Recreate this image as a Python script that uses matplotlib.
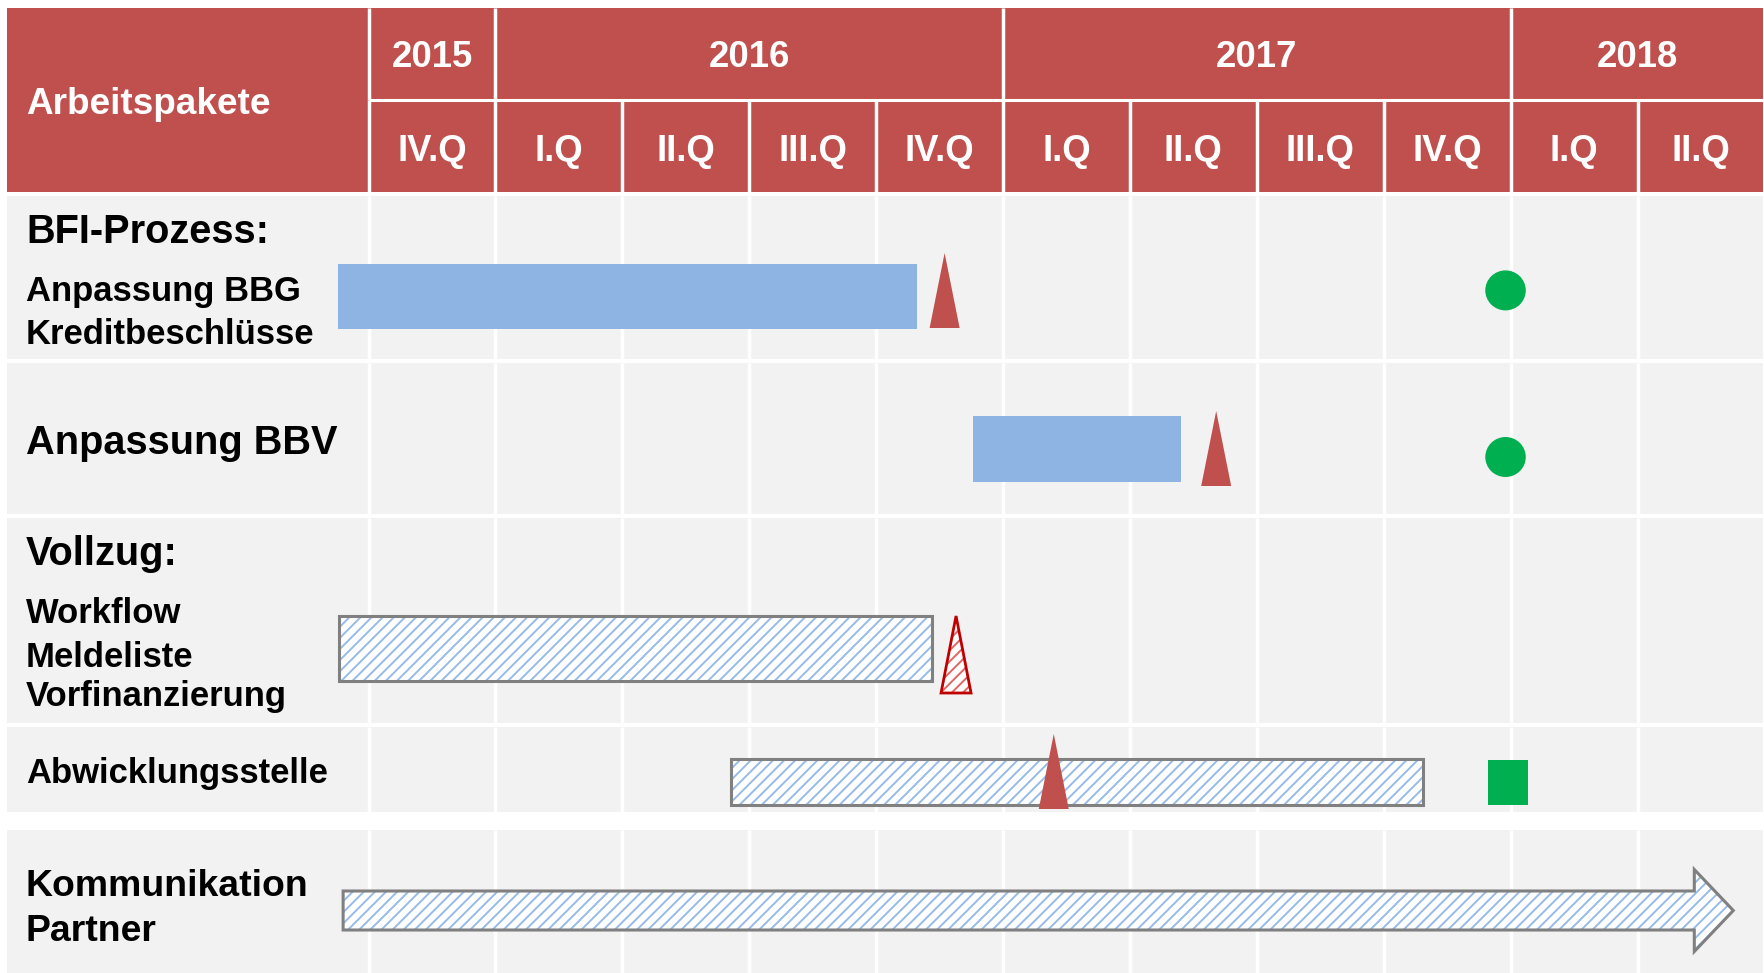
import matplotlib
matplotlib.use("Agg")
import matplotlib.pyplot as plt
from matplotlib.patches import Rectangle, Polygon, Ellipse, FancyArrow

# ---------------- data ----------------
header_label = "Arbeitspakete"
years = ["2015", "2016", "2017", "2018"]
year_spans = [1, 4, 4, 2]                      # quarters per year shown
quarter_labels = ["IV.Q", "I.Q", "II.Q", "III.Q", "IV.Q",
                  "I.Q", "II.Q", "III.Q", "IV.Q", "I.Q", "II.Q"]

# time in quarter units, 0 = start of IV.Q 2015
solid_bar_names = ["Anpassung BBG", "Anpassung BBV"]
solid_bar_start = [-0.24, 4.76]
solid_bar_end = [4.32, 6.40]

hatched_bar_names = ["Workflow Meldeliste Vorfinanzierung", "Abwicklungsstelle"]
hatched_bar_start = [-0.23, 2.855]
hatched_bar_end = [4.44, 8.31]

arrow_name = "Kommunikation Partner"
arrow_start = -0.20
arrow_end = 10.755

milestone_x = [4.54, 6.68, 4.63, 5.40]          # triangles
milestone_outline = [False, False, True, False]

goal_x = [8.96, 8.96, 8.98]                     # green end markers
goal_shape = ["circle", "circle", "square"]

row_labels = [
    [("BFI-Prozess:", "big"), ("Anpassung BBG", "small"), ("Kreditbeschlüsse", "small")],
    [("Anpassung BBV", "big")],
    [("Vollzug:", "big"), ("Workflow", "small"), ("Meldeliste", "small"), ("Vorfinanzierung", "small")],
    [("Abwicklungsstelle", "small")],
    [("Kommunikation", "mid"), ("Partner", "mid")],
]

# ---------------- layout (reference pixels) ----------------
W, H = 1765, 973
X0, PITCH = 368.5, 126.9
def q(px):
    return (px - X0) / PITCH
def w(px):
    return px / PITCH

RED = "#C0504D"
BG = "#F2F2F2"
BLUE = "#8EB4E3"
GREEN = "#00B050"
GRAY = "#808080"
HATCH_BLUE = "#97BBE8"

plt.rcParams["font.family"] = ["Liberation Sans", "DejaVu Sans"]
plt.rcParams["hatch.linewidth"] = 1.4

fig = plt.figure(figsize=(W / 100, H / 100), dpi=100)
ax = fig.add_axes([0, 0, 1, 1])
ax.set_xlim(q(0), q(W))
ax.set_ylim(H, 0)
ax.axis("off")

nq = len(quarter_labels)
xl, xr = q(7), nq - 0.012
GL = 2.5  # white grid line width, pt

# header
ax.add_patch(Rectangle((xl, 8), xr - xl, 192 - 8, facecolor=RED, edgecolor="none", zorder=1))
ax.plot([0, nq], [100, 100], color="white", lw=2.2, zorder=2, solid_capstyle="butt")
for k in range(nq):
    ax.plot([k, k], [100, 192], color="white", lw=GL, zorder=2, solid_capstyle="butt")
b = 0
for yl, sp in zip(years, year_spans):
    ax.plot([b, b], [8, 100], color="white", lw=GL, zorder=2, solid_capstyle="butt")
    ax.text(b + sp / 2, 66.7, yl, color="white", fontsize=26.3, fontweight="bold",
            ha="center", va="baseline", zorder=3)
    b += sp
for k, ql in enumerate(quarter_labels):
    ax.text(k + 0.5, 161, ql, color="white", fontsize=26.3, fontweight="bold",
            ha="center", va="baseline", zorder=3)
ax.text(q(26), 114, header_label, color="white", fontsize=26.6, fontweight="bold",
        ha="left", va="baseline", zorder=3)

# body rows
rows = [(196, 359), (363, 514), (518, 723), (727, 812), (830, 973)]
for (t, btm) in rows:
    ax.add_patch(Rectangle((xl, t), xr - xl, btm - t, facecolor=BG, edgecolor="none", zorder=1))
    for k in range(nq):
        ax.plot([k, k], [t, btm], color="white", lw=GL, zorder=2, solid_capstyle="butt")

# row labels
sizes = {"big": 28.6, "small": 24.9, "mid": 26.9}
baselines = [[243.3, 301, 344], [454], [565, 623.3, 666.7, 706], [782.7], [895.7, 940.7]]
for labs, bls in zip(row_labels, baselines):
    for (txt, sz), bl in zip(labs, bls):
        ax.text(q(26), bl, txt, fontsize=sizes[sz], fontweight="bold", color="black",
                ha="left", va="baseline", zorder=3)

# solid bars
solid_y = [(264, 329), (416, 482)]
for s, e, (t, btm) in zip(solid_bar_start, solid_bar_end, solid_y):
    ax.add_patch(Rectangle((s, t), e - s, btm - t, facecolor=BLUE, edgecolor="none", zorder=4))

# hatched bars
hatch_y = [(616, 681), (758.5, 805)]
for s, e, (t, btm) in zip(hatched_bar_start, hatched_bar_end, hatch_y):
    ax.add_patch(Rectangle((s, t), e - s, btm - t, facecolor="white", edgecolor=HATCH_BLUE,
                           hatch="///", lw=0, zorder=4))
    ax.add_patch(Rectangle((s, t), e - s, btm - t, fill=False, edgecolor=GRAY, lw=2.2, zorder=5))

# arrow
ay, body, headw, headl = 910.5, 39, 82, w(39)
ax.add_patch(FancyArrow(arrow_start, ay, arrow_end - arrow_start, 0, width=body,
                        head_width=headw, head_length=headl, length_includes_head=True,
                        facecolor="white", edgecolor=HATCH_BLUE, hatch="///", lw=0, zorder=4))
ax.add_patch(FancyArrow(arrow_start, ay, arrow_end - arrow_start, 0, width=body,
                        head_width=headw, head_length=headl, length_includes_head=True,
                        fill=False, edgecolor=GRAY, lw=2.2, zorder=5, joinstyle="miter"))

# milestone triangles
tri_y = [(253, 328), (411, 486), (616, 693), (734, 809)]
for mx, outl, (t, btm) in zip(milestone_x, milestone_outline, tri_y):
    hw = w(15)
    pts = [(mx - hw, btm), (mx + hw, btm), (mx, t)]
    if outl:
        ax.add_patch(Polygon(pts, closed=True, facecolor="white", edgecolor="#E06666",
                             hatch="///", lw=0, zorder=6))
        ax.add_patch(Polygon(pts, closed=True, fill=False, edgecolor="#C00000",
                             lw=2.0, zorder=7, joinstyle="miter"))
    else:
        ax.add_patch(Polygon(pts, closed=True, facecolor=RED, edgecolor="none", zorder=6))

# goal markers
goal_y = [290.4, 457, 782.5]
for gx, shp, gy in zip(goal_x, goal_shape, goal_y):
    if shp == "circle":
        ax.add_patch(Ellipse((gx, gy), w(40.5), 40, facecolor=GREEN, edgecolor="none", zorder=6))
    else:
        ax.add_patch(Rectangle((gx - w(19.7), gy - 22.5), w(39.4), 45, facecolor=GREEN,
                               edgecolor="none", zorder=6))

fig.savefig("out.png", dpi=100, facecolor="white")
